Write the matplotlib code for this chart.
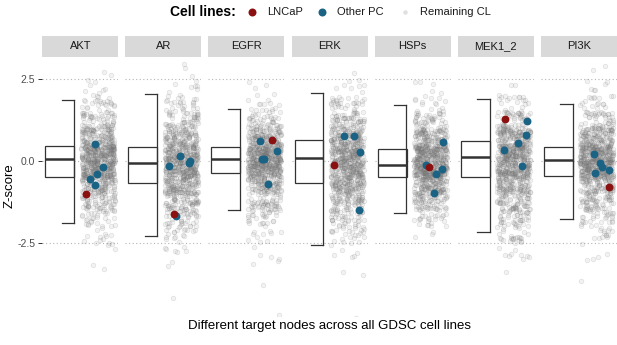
import numpy as np
import matplotlib
matplotlib.use("Agg")
import matplotlib.pyplot as plt
from matplotlib.patches import Rectangle
from matplotlib.lines import Line2D

plt.rcParams['font.family'] = ['Liberation Sans', 'DejaVu Sans']

# target nodes (facets)
targets = ["AKT", "AR", "EGFR", "ERK", "HSPs", "MEK1_2", "PI3K"]

# box statistics (z-score)
q1 = [-0.48, -0.66, -0.38, -0.66, -0.50, -0.50, -0.45]
median = [0.05, -0.07, 0.05, 0.08, -0.13, 0.12, 0.03]
q3 = [0.47, 0.42, 0.44, 0.64, 0.38, 0.61, 0.42]
whisker_lo = [-1.91, -2.29, -1.51, -2.58, -1.59, -2.17, -1.76]
whisker_hi = [1.88, 2.05, 1.60, 2.09, 1.72, 1.90, 1.74]

# highlighted prostate cancer lines
lncap = [-1.00, -1.63, 0.63, -0.13, -0.19, 1.28, -0.81]
other_pc = [
    [0.52, -0.17, -0.40, -0.54, -0.74],
    [0.15, -0.07, 0.00, -0.14, -1.68],
    [0.62, 0.31, 0.05, 0.05, -0.70],
    [0.76, 0.76, 0.27, -1.50],
    [0.57, -0.12, -0.39, -0.25, -0.98],
    [1.22, 0.79, 0.56, 0.35, -0.16],
    [0.21, -0.05, -0.17, -0.36, -0.28],
]

# remaining cell lines: approximate counts per 0.5-wide z-score bin
bin_edges = [-5.0, -4.5, -4.0, -3.5, -3.0, -2.5, -2.0, -1.5, -1.0,
             -0.5, 0.0, 0.5, 1.0, 1.5, 2.0, 2.5, 3.0]
counts_akt = [0, 0, 0, 2, 3, 12, 30, 60, 95, 190, 200, 110, 55, 25, 8, 2]
counts_ar = [0, 1, 0, 2, 6, 20, 40, 70, 130, 170, 160, 100, 55, 25, 8, 3]
counts_egfr = [1, 0, 1, 2, 4, 10, 25, 55, 100, 200, 210, 110, 45, 15, 5, 0]
counts_erk = [1, 0, 0, 2, 6, 25, 45, 75, 120, 150, 150, 120, 65, 30, 8, 1]
counts_hsps = [0, 0, 0, 0, 0, 3, 25, 70, 130, 210, 190, 100, 45, 15, 5, 0]
counts_mek = [0, 0, 0, 1, 10, 25, 45, 70, 105, 165, 175, 125, 55, 20, 3, 0]
counts_pi3k = [0, 0, 1, 1, 4, 15, 30, 60, 100, 200, 200, 110, 50, 20, 6, 2]
grey_counts = [counts_akt, counts_ar, counts_egfr, counts_erk,
               counts_hsps, counts_mek, counts_pi3k]

red = "#8b1111"
blue = "#1b6385"
line_col = "#333333"

W, H = 617, 345
fig = plt.figure(figsize=(W / 100, H / 100), dpi=100)


def jitter(n, seed):
    # deterministic hash-style jitter in [0, 1) (positions only)
    i = np.arange(n) + seed * 1000.0
    u = (np.sin(i * 12.9898 + 4.1) * 43758.5453) % 1.0
    v = (np.sin(i * 78.233 + 1.7) * 24634.6345) % 1.0
    return u, v


def px(x, y, w, h):
    return [x / W, 1 - (y + h) / H, w / W, h / H]


ylo, yhi = -4.74, 3.19
panel_top, panel_bot = 56.7, 316.0
strip_h = 21.0
pt_c, pt_hw = 0.735, 0.22

for i, t in enumerate(targets):
    ax = fig.add_axes(px(42.3 + i * 83.07, panel_top, 76, panel_bot - panel_top))
    ax.set_xlim(0, 1)
    ax.set_ylim(ylo, yhi)
    for s in ax.spines.values():
        s.set_visible(False)
    for g in [-2.5, 0, 2.5]:
        ax.axhline(g, color="#b5b5b5", lw=0.8, ls=(0, (1, 2.2)), zorder=0)

    # grey cloud
    ys, xs = [], []
    for b, n in enumerate(grey_counts[i]):
        if n == 0:
            continue
        u, v = jitter(n, b + 20 * i)
        lo, hi = bin_edges[b], bin_edges[b + 1]
        ys.append(lo + (hi - lo) * v)
        xs.append(pt_c + pt_hw * (2 * u - 1))
    ys = np.concatenate(ys)
    xs = np.concatenate(xs)
    ax.scatter(xs, ys, s=11, facecolor=(0.5, 0.5, 0.5, 0.1),
               edgecolor=(0.45, 0.45, 0.45, 0.19), linewidth=0.5, zorder=1)

    # half box with bracket whiskers
    bx0, bx1, cap0 = 0.04, 0.42, 0.26
    ax.add_patch(Rectangle((bx0, q1[i]), bx1 - bx0, q3[i] - q1[i],
                           facecolor="white", edgecolor=line_col, lw=0.9, zorder=2))
    ax.plot([bx0, bx1], [median[i]] * 2, color=line_col, lw=1.8, zorder=3,
            solid_capstyle="butt")
    ax.plot([bx1, bx1], [whisker_lo[i], whisker_hi[i]], color=line_col, lw=0.9, zorder=2)
    ax.plot([cap0, bx1], [whisker_hi[i]] * 2, color=line_col, lw=0.9, zorder=2)
    ax.plot([cap0, bx1], [whisker_lo[i]] * 2, color=line_col, lw=0.9, zorder=2)

    # highlighted lines
    u, _ = jitter(len(other_pc[i]), 300 + i)
    ax.scatter(pt_c + 0.18 * (2 * u - 1), other_pc[i], s=32, color=blue,
               linewidth=0, zorder=4)
    u, _ = jitter(1, 400 + i)
    ax.scatter(pt_c + 0.18 * (2 * u - 1), [lncap[i]], s=32, color=red,
               linewidth=0, zorder=4)

    # strip
    ax.add_patch(Rectangle((0, 1), 1, strip_h / (panel_bot - panel_top),
                           transform=ax.transAxes, facecolor="#d9d9d9",
                           edgecolor="none", clip_on=False))
    ax.text(0.5, 1 + strip_h / 2 / (panel_bot - panel_top), t, transform=ax.transAxes,
            ha="center", va="center", fontsize=8, color="#1a1a1a")

    ax.set_xticks([])
    if i == 0:
        ax.set_yticks([-2.5, 0, 2.5])
        ax.set_yticklabels(["-2.5", "0.0", "2.5"])
        ax.tick_params(axis="y", length=3, width=0.7, color="#333333",
                       labelsize=7.5, labelcolor="#4d4d4d", pad=2)
    else:
        ax.set_yticks([])

fig.text(10 / W, 1 - 186 / H, "Z-score", rotation=90, ha="center", va="center",
         fontsize=9.5)
fig.text((42.3 + 616.7) / 2 / W, 1 - 326 / H,
         "Different target nodes across all GDSC cell lines",
         ha="center", va="center", fontsize=9.5)

# legend
ly = 1 - 12 / H
fig.text(170 / W, ly, "Cell lines:", ha="left", va="center",
         fontsize=10, fontweight="bold")
for xc, col, ms, lab, tx in [(252, red, 8, "LNCaP", 267),
                             (321.5, blue, 8, "Other PC", 337),
                             (405, (0.8, 0.8, 0.8, 0.6), 4.5, "Remaining CL", 420)]:
    fig.add_artist(Line2D([xc / W], [ly], marker="o", markersize=ms * 0.72,
                          color=col, markeredgewidth=0, linestyle="none"))
    fig.text(tx / W, ly, lab, ha="left", va="center", fontsize=8, color="#1a1a1a")

fig.savefig("out.png", dpi=100)
